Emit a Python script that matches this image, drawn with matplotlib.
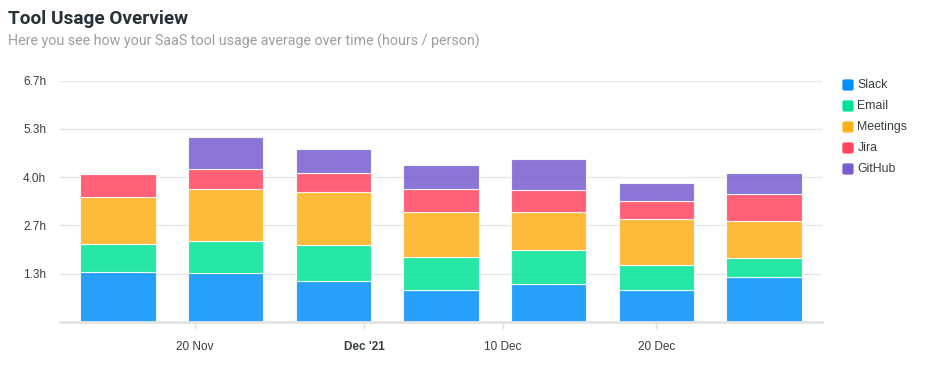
#!/usr/bin/env python3
from __future__ import annotations

import datetime as dt

import matplotlib
matplotlib.use("Agg")
import matplotlib.pyplot as plt
import matplotlib.dates as mdates
from matplotlib.patches import FancyBboxPatch

TITLE = "Tool Usage Overview"
SUBTITLE = "Here you see how your SaaS tool usage average over time (hours / person)"

weeks = ["2021-11-15", "2021-11-22", "2021-11-29", "2021-12-06", "2021-12-13", "2021-12-20", "2021-12-27"]
series = ["Slack", "Email", "Meetings", "Jira", "GitHub"]
colors = ["#008FFB", "#00E396", "#FEB019", "#FF4560", "#775DD0"]

slack = [1.39, 1.35, 1.14, 0.89, 1.04, 0.88, 1.23]
email = [0.77, 0.90, 0.99, 0.90, 0.94, 0.69, 0.54]
meetings = [1.28, 1.42, 1.45, 1.26, 1.06, 1.28, 1.02]
jira = [0.64, 0.55, 0.54, 0.62, 0.60, 0.49, 0.75]
github = [0.00, 0.89, 0.65, 0.68, 0.85, 0.50, 0.58]

y_ticks = [4 / 3, 8 / 3, 4.0, 16 / 3, 20 / 3]
y_labels = ["1.3h", "2.7h", "4.0h", "5.3h", "6.7h"]
x_ticks = ["2021-11-20", "2021-12-01", "2021-12-10", "2021-12-20"]
x_labels = ["20 Nov", "Dec '21", "10 Dec", "20 Dec"]

W, H = 936, 366
AX_L, AX_R, AX_T, AX_B = 60, 822, 80.7, 322


def to_date(s):
    return dt.datetime.strptime(s, "%Y-%m-%d")


def main():
    plt.rcParams["font.family"] = ["Liberation Sans", "DejaVu Sans"]

    fig = plt.figure(figsize=(W / 100, H / 100), dpi=100)
    ax = fig.add_axes([AX_L / W, 1 - AX_B / H, (AX_R - AX_L) / W, (AX_B - AX_T) / H])

    x = mdates.date2num([to_date(d) for d in weeks])
    values = [slack, email, meetings, jira, github]
    bottom = [0.0] * len(x)
    for vals, color in zip(values, colors):
        ax.bar(x, vals, width=4.9, bottom=bottom, color=color, alpha=0.85,
               edgecolor=(1, 1, 1, 0.35), linewidth=0.8, zorder=3)
        bottom = [b + v for b, v in zip(bottom, vals)]

    pad = 3.77
    ax.set_xlim(x[0] - pad, x[-1] + pad)
    ax.set_ylim(0, 20 / 3)

    ax.set_yticks(y_ticks)
    ax.set_yticklabels(y_labels)
    ax.tick_params(axis="y", length=0, pad=14, labelsize=8.5, labelcolor="#373d3f")
    ax.grid(axis="y", color="#e6e6e6", linewidth=1, zorder=0)

    xt = mdates.date2num([to_date(d) for d in x_ticks])
    ax.set_xticks(xt)
    ax.set_xticklabels(x_labels)
    ax.tick_params(axis="x", length=5, width=1, color="#e0e0e0", pad=9,
                   labelsize=8.5, labelcolor="#373d3f")
    for lbl in ax.get_xticklabels():
        if lbl.get_text() == "Dec '21":
            lbl.set_fontweight("bold")
    for lbl in ax.get_yticklabels():
        lbl.set_x(-0.0)
    ax.yaxis.set_tick_params(pad=10)

    for side in ["left", "right", "top"]:
        ax.spines[side].set_visible(False)
    ax.spines["bottom"].set_color("#e3e3e3")
    ax.spines["bottom"].set_linewidth(2)
    ax.spines["bottom"].set_zorder(4)

    fig.text(8 / W, 1 - 19 / H, TITLE, family=["Roboto", "DejaVu Sans"], fontweight="bold",
             fontsize=13.7, color="#263238", va="center", ha="left")
    fig.text(8 / W, 1 - 41 / H, SUBTITLE, family=["Roboto", "DejaVu Sans"],
             fontsize=10.3, color="#9e9e9e", va="center", ha="left")

    # legend drawn in pixel space
    lax = fig.add_axes([0, 0, 1, 1], zorder=5)
    lax.set_xlim(0, W)
    lax.set_ylim(H, 0)
    lax.axis("off")
    for i, (name, color) in enumerate(zip(series, colors)):
        yc = 85 + 21 * i
        lax.add_patch(FancyBboxPatch((843, yc - 5), 10, 10, boxstyle="round,pad=0.6,rounding_size=2",
                                     facecolor=color, edgecolor="none"))
        lax.text(857.5, yc, name, fontsize=8.8, color="#373d3f", va="center", ha="left")

    fig.savefig("out.png", dpi=100)
    plt.close(fig)


if __name__ == "__main__":
    main()
